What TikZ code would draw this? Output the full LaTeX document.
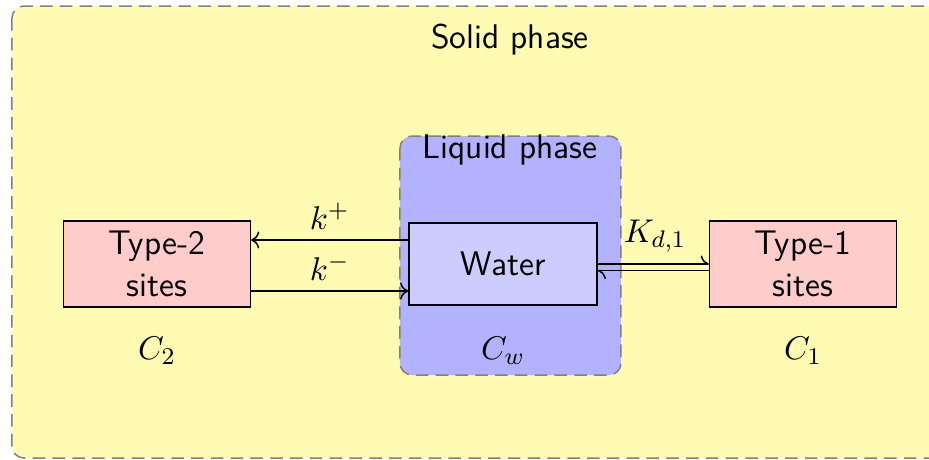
\documentclass[tikz,border=0pt]{standalone}
\usetikzlibrary{arrows.meta,calc}
\begin{document}
\begin{tikzpicture}[x=1pt/3,y=-1pt/3,font=\sffamily\fontsize{11.4}{14.2}\selectfont,line width=0.5pt,
  phase/.style={draw=gray,dashed,dash pattern=on 4.2pt off 2.4pt,rounded corners=4pt},
  sitebox/.style={draw,fill=red!20,minimum width=62.3pt,minimum height=28.7pt,align=center,inner sep=1pt},
  waterbox/.style={draw,fill=blue!20,minimum width=62.7pt,minimum height=27.3pt,inner sep=1pt},
  conn/.style={-{To}},
  harp/.style={-{To[left]}}]
\useasboundingbox (0,0) rectangle (929,460);
\clip (0,0) rectangle (929,460);
\draw[phase,fill=yellow!30] (12,6) rectangle (1000,458);
\node (solid) at (510,40) {Solid phase};
\draw[phase,fill=blue!30] (400,136) rectangle (621,375);
\node (liquid) at (510,150) {Liquid phase};
\node[waterbox] (water) at (503,264) {Water};
\node[sitebox] (t2) at (157,264) {Type-2\\sites};
\node[sitebox] (t1) at (803,264) {Type-1\\sites};
\node (c2) at (157,351) {$C_2$};
\node (cw) at (503,351) {$C_w$};
\node (c1) at (803,351) {$C_1$};
\draw[conn] ($(water.west)+(0,-24)$) -- node[above] {$k^+$} ($(t2.east)+(0,-24)$);
\draw[conn] ($(t2.east)+(0,27)$) -- node[above] {$k^-$} ($(water.west)+(0,27)$);
\draw[harp] ($(water.east)+(0,0)$) -- ($(t1.west)+(0,0)$);
\draw[harp] ($(t1.west)+(0,6.5)$) -- ($(water.east)+(0,6.5)$);
\node (kd) at (655,236) {$K_{d,1}$};
\end{tikzpicture}
\end{document}
